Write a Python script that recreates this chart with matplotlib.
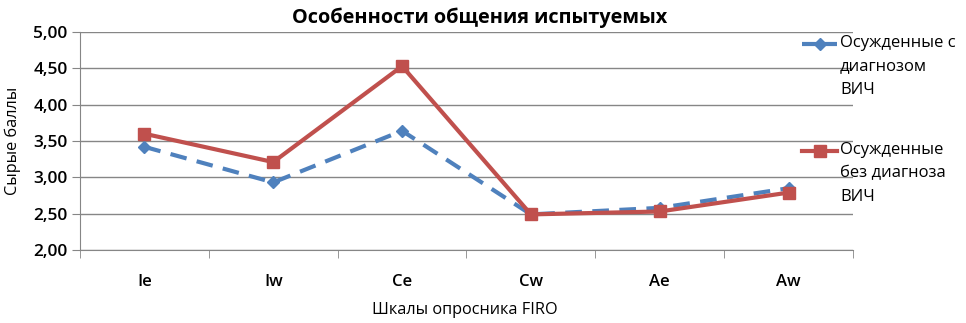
import matplotlib
matplotlib.use("Agg")
import matplotlib.pyplot as plt
from matplotlib.lines import Line2D
from matplotlib.ticker import FuncFormatter, FixedLocator

plt.rcParams['font.family'] = ['Open Sans', 'DejaVu Sans']

categories = ["Ie", "Iw", "Ce", "Cw", "Ae", "Aw"]
hiv = [3.42, 2.93, 3.64, 2.49, 2.58, 2.85]
no_hiv = [3.60, 3.21, 4.53, 2.49, 2.53, 2.79]
labels = ["Осужденные с\nдиагнозом\nВИЧ", "Осужденные\nбез диагноза\nВИЧ"]
yticks = [2.0, 2.5, 3.0, 3.5, 4.0, 4.5, 5.0]

blue = "#4F81BD"
red = "#C0504D"

fig = plt.figure(figsize=(9.66, 3.23), dpi=100)
ax = fig.add_axes([80/966, 1-250/323, 773/966, 218/323])

x = list(range(len(categories)))
l1, = ax.plot(x, hiv, color=blue, lw=3, ls=(0, (4, 2.5)), marker="D", ms=6,
              markerfacecolor=blue, markeredgecolor=blue, zorder=3)
l2, = ax.plot(x, no_hiv, color=red, lw=3, ls="-", marker="s", ms=9,
              markerfacecolor=red, markeredgecolor=red, zorder=4)

ax.set_xlim(-0.5, len(categories) - 0.5)
ax.set_ylim(2.0, 5.0)
ax.set_yticks(yticks)
ax.yaxis.set_major_formatter(FuncFormatter(lambda v, p: f"{v:.2f}".replace(".", ",")))
ax.set_xticks(x)
ax.set_xticklabels(categories)
ax.xaxis.set_minor_locator(FixedLocator([i - 0.5 for i in range(len(categories) + 1)]))
ax.tick_params(axis="x", which="major", length=0, pad=17, labelsize=12)
ax.tick_params(axis="x", which="minor", length=6, direction="out", color="#868686")
ax.tick_params(axis="y", length=6, direction="out", color="#868686", labelsize=12.5, pad=3)
for lab in ax.get_xticklabels() + ax.get_yticklabels():
    lab.set_fontweight("semibold")

ax.grid(axis="y", color="#868686", lw=1)
ax.set_axisbelow(True)
for s in ["top", "right"]:
    ax.spines[s].set_visible(False)
for s in ["left", "bottom"]:
    ax.spines[s].set_color("#868686")

fig.text(480/966, 1-18/323, "Особенности общения испытуемых", ha="center", va="center",
         fontsize=14.3, fontweight="bold")
fig.text(13/966, 1-141/323, "Сырые баллы", rotation=90, ha="center", va="center", fontsize=11.7)
fig.text(465/966, 1-310/323, "Шкалы опросника FIRO", ha="center", va="center", fontsize=11.7)

# legend (manual, handle aligned with first text line)
for line, lab, ytop in [(l1, labels[0], 44), (l2, labels[1], 151)]:
    yf = 1 - ytop/323
    fig.add_artist(Line2D([802/966, 837/966], [yf, yf], transform=fig.transFigure,
                          color=line.get_color(), lw=3, ls=line.get_linestyle()))
    fig.add_artist(Line2D([819.5/966], [yf], transform=fig.transFigure,
                          color=line.get_color(), marker=line.get_marker(),
                          ms=line.get_markersize(), ls="none"))
    fig.text(840/966, yf + 9/323, lab, ha="left", va="top", fontsize=12,
             linespacing=1.62)

fig.savefig("out.png", dpi=100)
